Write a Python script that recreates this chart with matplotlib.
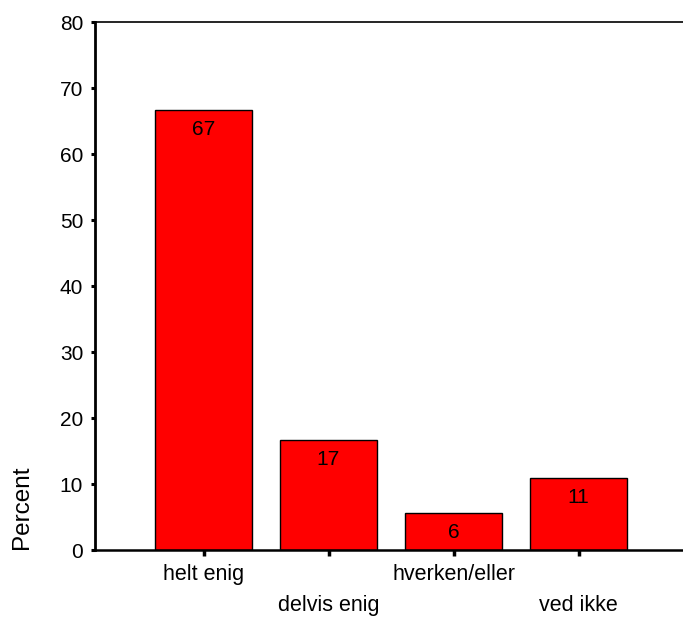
import matplotlib
matplotlib.use("Agg")
import matplotlib.pyplot as plt

categories = ["helt enig", "delvis enig", "hverken/eller", "ved ikke"]
values = [66.6, 16.7, 5.6, 10.9]
yticks = [0, 10, 20, 30, 40, 50, 60, 70, 80]

plt.rcParams['font.family'] = ['Liberation Sans', 'DejaVu Sans']

fig = plt.figure(figsize=(6.83, 6.19), dpi=100)
ax = fig.add_axes([95/683, 1 - 550/619, 1 - 95/683, (550 - 22)/619])

x = list(range(len(categories)))
bars = ax.bar(x, values, width=0.776, color="#ff0000", edgecolor="black", linewidth=1.0, zorder=2)

for xi, v in zip(x, values):
    ax.annotate(f"{v:.0f}", xy=(xi, v), xytext=(0, -14), textcoords="offset points",
                ha="center", va="center", fontsize=15, color="black")

ax.set_xlim(-0.868, 3.836)
ax.set_ylim(0, 80)
ax.set_yticks(yticks)
ax.set_yticklabels([str(t) for t in yticks], fontsize=15)
ax.set_xticks(x)
ax.set_xticklabels(categories, fontsize=15.5)

ax.spines['right'].set_visible(False)
ax.spines['left'].set_linewidth(2)
ax.spines['bottom'].set_linewidth(1.8)
ax.spines['top'].set_linewidth(1.2)

ax.tick_params(axis='y', direction='out', length=3, width=2.2, pad=5.5)
ax.tick_params(axis='x', direction='out', length=4, width=2.5)
for i, t in enumerate(ax.xaxis.get_major_ticks()):
    t.set_pad(6 if i % 2 == 0 else 28.5)

fig.text(22/683, 1 - 507/619, "Percent", rotation=90, ha="center", va="center", fontsize=17.5)

fig.savefig("out.png", dpi=100)
